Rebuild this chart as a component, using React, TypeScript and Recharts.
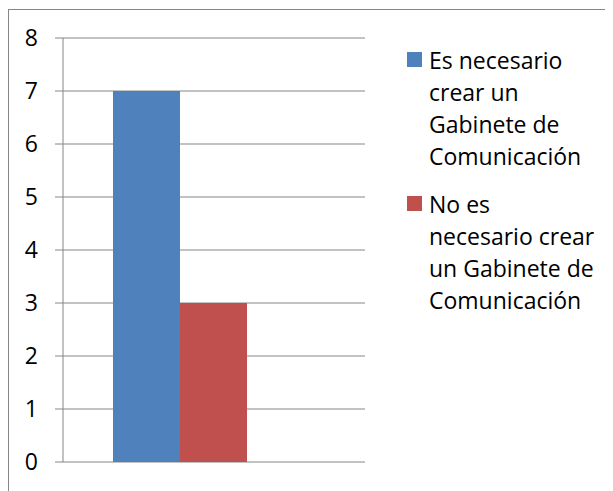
import { BarChart, Bar, XAxis, YAxis, CartesianGrid, Legend } from 'recharts';

// one category, Excel-style clustered column (third slot left empty)
const categories = [''];
const necesario = [7];
const noNecesario = [3];
const vacio = [null];

const seriesNames = [
  'Es necesario crear un Gabinete de Comunicación',
  'No es necesario crear un Gabinete de Comunicación',
];
// how the legend text wraps in the picture
const legendLines = [
  ['Es necesario', 'crear un', 'Gabinete de', 'Comunicación'],
  ['No es', 'necesario crear', 'un Gabinete de', 'Comunicación'],
];
const seriesColors = ['#4F81BD', '#C0504D'];
const yTicks = [0, 1, 2, 3, 4, 5, 6, 7, 8];

const data = categories.map((c, i) => ({
  name: c,
  a: necesario[i],
  b: noNecesario[i],
  c: vacio[i],
}));

const GRAY = '#868686';
const FONT = '"Open Sans", sans-serif';

function LegendBox() {
  return (
    <div style={{ fontFamily: FONT, fontSize: 23, lineHeight: '32px', color: '#000' }}>
      {seriesNames.map((name, i) => (
        <div key={name} title={name} style={{ display: 'flex', marginBottom: i === 0 ? 16 : 0 }}>
          <div
            style={{
              width: 15,
              height: 15,
              background: seriesColors[i],
              marginTop: 8,
              marginRight: 7,
              flexShrink: 0,
            }}
          />
          <div style={{ whiteSpace: 'nowrap' }}>
            {legendLines[i].map((l) => (
              <div key={l}>{l}</div>
            ))}
          </div>
        </div>
      ))}
    </div>
  );
}

export default function App() {
  return (
    <div
      style={{
        marginTop: 1,
        width: 620,
        height: 490,
        borderLeft: `1px solid ${GRAY}`,
        borderTop: `1px solid ${GRAY}`,
        background: '#fff',
      }}
    >
      <BarChart
        width={600}
        height={480}
        data={data}
        margin={{ top: 28, right: 244, bottom: 8, left: 9 }}
        barCategoryGap={50}
        barGap={0}
      >
        <CartesianGrid vertical={false} stroke={GRAY} strokeWidth={1} />
        <XAxis dataKey="name" hide />
        <XAxis
          xAxisId="edge"
          type="number"
          domain={[0, 1]}
          ticks={[0, 1]}
          tickSize={8}
          height={20}
          stroke={GRAY}
          tickFormatter={() => ''}
        />
        <YAxis
          domain={[0, 8]}
          ticks={yTicks}
          width={45}
          tickSize={8}
          tickMargin={17}
          stroke={GRAY}
          tick={{ fill: '#000', fontSize: 23, fontFamily: FONT }}
        />
        <Legend
          layout="horizontal"
          verticalAlign="middle"
          align="center"
          content={() => <LegendBox />}
          wrapperStyle={{ left: 398, top: 34, width: 'auto' }}
        />
        <Bar dataKey="a" name={seriesNames[0]} fill={seriesColors[0]} isAnimationActive={false} />
        <Bar dataKey="b" name={seriesNames[1]} fill={seriesColors[1]} isAnimationActive={false} />
        <Bar dataKey="c" legendType="none" fill="#9BBB59" isAnimationActive={false} />
      </BarChart>
    </div>
  );
}
